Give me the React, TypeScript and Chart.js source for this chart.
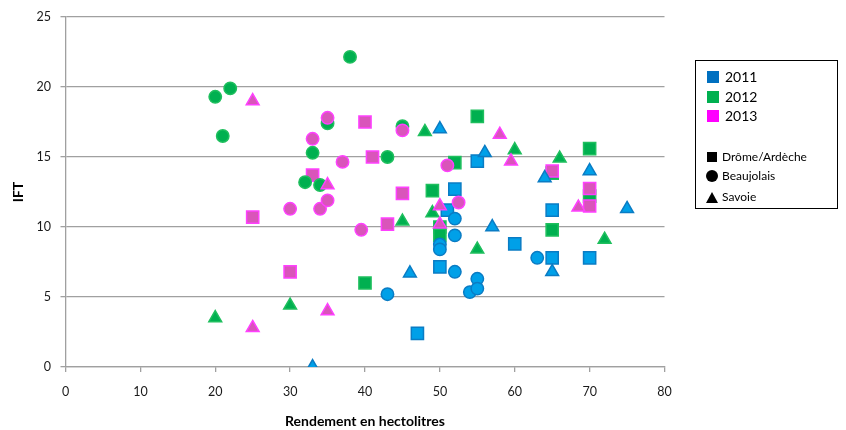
import React, { useEffect, useRef } from "react";
import { Chart, registerables } from "chart.js";

Chart.register(...registerables);

const FONT = "Lato, 'Open Sans', sans-serif";
const GRID = "#a0a0a0";

const years = ["2011", "2012", "2013"];
const regions = ["Drôme/Ardèche", "Beaujolais", "Savoie"];

const yearFill = ["#00A0E8", "#00B050", "#D955BA"];
const yearBorder = ["#0A7CC4", "#1FBF5E", "#FF40FF"];
const legendYearColor = ["#0070C0", "#00B050", "#FF00FF"];

const xTicks = [0, 10, 20, 30, 40, 50, 60, 70, 80];
const yTicks = [0, 5, 10, 15, 20, 25];

// Drôme/Ardèche (squares)
const drome2011: [number, number][] = [
  [47, 2.4], [50, 7.15], [51, 11.2], [52, 12.7], [55, 14.7], [60, 8.8], [65, 11.2], [65, 7.8], [70, 7.8],
];
const drome2012: [number, number][] = [
  [40, 6], [49, 12.6], [50, 10.0], [50, 9.4], [52, 14.6], [55, 17.9], [65, 9.8], [65, 13.85], [70, 15.6], [70, 12.2],
];
const drome2013: [number, number][] = [
  [25, 10.7], [30, 6.8], [33, 13.7], [40, 17.5], [41, 15], [43, 10.2], [45, 12.4], [65, 14.0], [70, 12.75], [70, 11.5],
];

// Beaujolais (circles)
const beaujolais2011: [number, number][] = [
  [43, 5.2], [50, 8.75], [50, 8.4], [52, 10.6], [52, 9.4], [52, 6.8], [54, 5.35], [55, 6.3], [55, 5.6], [63, 7.8],
];
const beaujolais2012: [number, number][] = [
  [20, 19.3], [21, 16.5], [22, 19.9], [32, 13.2], [33, 15.3], [34, 13], [35, 17.4], [38, 22.15], [43, 15], [45, 17.2],
];
const beaujolais2013: [number, number][] = [
  [30, 11.3], [33, 16.3], [34, 11.3], [35, 17.8], [35, 11.9], [37, 14.65], [39.5, 9.8], [45, 16.9], [51, 14.4], [52.5, 11.75],
];

// Savoie (triangles)
const savoie2011: [number, number][] = [
  [33, 0], [46, 6.7], [50, 17], [56, 15.3], [57, 10], [64, 13.5], [65, 6.8], [70, 14], [75, 11.3],
];
const savoie2012: [number, number][] = [
  [20, 3.5], [30, 4.4], [45, 10.4], [48, 16.8], [49, 11.0], [55, 8.4], [60, 15.5], [66, 14.9], [72, 9.1],
];
const savoie2013: [number, number][] = [
  [25, 19], [25, 2.8], [35, 13.0], [35, 4], [50, 11.5], [50, 10.2], [58, 16.6], [59.5, 14.7], [68.5, 11.4],
];

const seriesByRegion = [
  [drome2011, drome2012, drome2013],
  [beaujolais2011, beaujolais2012, beaujolais2013],
  [savoie2011, savoie2012, savoie2013],
];
const pointStyles = ["rect", "circle", "triangle"];
const pointRadii = [8.6, 6.2, 7.4];

function buildDatasets() {
  const list: any[] = [];
  seriesByRegion.forEach((yearsData, r) => {
    yearsData.forEach((pts, yi) => {
      list.push({
        label: `${regions[r]} ${years[yi]}`,
        data: pts.map(([x, y]) => ({ x, y })),
        pointStyle: pointStyles[r],
        pointRadius: pointRadii[r],
        pointHoverRadius: pointRadii[r],
        backgroundColor: yearFill[yi],
        borderColor: yearBorder[yi],
        pointBorderWidth: 1.5,
        showLine: false,
      });
    });
  });
  // Chart.js draws dataset 0 last (on top); reverse so the last series is on top
  return list.reverse();
}

const legendText: React.CSSProperties = {
  position: "absolute",
  fontFamily: FONT,
  color: "#000",
  whiteSpace: "nowrap",
  lineHeight: "20px",
  height: 20,
};

export default function App() {
  const ref = useRef<HTMLCanvasElement>(null);

  useEffect(() => {
    document.body.style.margin = "0";
    const canvas = ref.current!;
    const chart = new Chart(canvas, {
      type: "scatter",
      data: { datasets: buildDatasets() },
      options: {
        animation: false,
        responsive: false,
        maintainAspectRatio: false,
        events: [],
        layout: { padding: { left: 0, right: 181.5, top: 14, bottom: 0 } },
        plugins: { legend: { display: false }, tooltip: { enabled: false } },
        scales: {
          x: {
            type: "linear",
            min: 0,
            max: 80,
            afterBuildTicks: (s: any) => {
              s.ticks = xTicks.map((v) => ({ value: v }));
            },
            ticks: { color: "#1a1a1a", font: { family: FONT, size: 12.5 }, padding: 12, maxRotation: 0 },
            grid: { drawOnChartArea: false, drawTicks: true, tickLength: 5, color: GRID, lineWidth: 1.3 },
            border: { color: GRID, width: 1.3 },
            title: {
              display: true,
              text: "Rendement en hectolitres",
              color: "#000",
              font: { family: FONT, size: 14, weight: "bold" },
              padding: { top: 0, bottom: 0 },
            },
            afterFit: (s: any) => {
              s.height = 63;
            },
          },
          y: {
            type: "linear",
            min: 0,
            max: 25,
            afterBuildTicks: (s: any) => {
              s.ticks = yTicks.map((v) => ({ value: v }));
            },
            ticks: { color: "#1a1a1a", font: { family: FONT, size: 12.5 }, padding: 9.5 },
            grid: { drawOnChartArea: true, drawTicks: true, tickLength: 5, color: GRID, lineWidth: 1.3 },
            border: { color: GRID, width: 1.3 },
            title: {
              display: true,
              text: "IFT",
              color: "#000",
              font: { family: FONT, size: 14, weight: "bold" },
              padding: { top: 9.6, bottom: 0 },
            },
            afterFit: (s: any) => {
              s.width = 65.5;
            },
          },
        },
      } as any,
    });
    return () => chart.destroy();
  }, []);

  const yearRowCenters = [77, 97, 116];
  const shapeRowCenters = [157, 176, 197];

  return (
    <div style={{ position: "fixed", left: 0, top: 0, width: 846, height: 430, background: "#fff" }}>
      <canvas ref={ref} width={846} height={430} style={{ width: 846, height: 430, display: "block" }} />
      <div
        style={{
          position: "absolute",
          left: 695,
          top: 60,
          width: 143,
          height: 149,
          border: "1px solid #000",
          boxSizing: "border-box",
        }}
      />
      {years.map((y, i) => (
        <React.Fragment key={y}>
          <div
            style={{
              position: "absolute",
              left: 707,
              top: yearRowCenters[i] - 6,
              width: 12,
              height: 12,
              background: legendYearColor[i],
            }}
          />
          <div style={{ ...legendText, left: 725, top: yearRowCenters[i] - 10, fontSize: 14 }}>{y}</div>
        </React.Fragment>
      ))}
      <div style={{ position: "absolute", left: 707, top: shapeRowCenters[0] - 5, width: 10, height: 10, background: "#000" }} />
      <div
        style={{
          position: "absolute",
          left: 706,
          top: shapeRowCenters[1] - 6,
          width: 12,
          height: 12,
          borderRadius: "50%",
          background: "#000",
        }}
      />
      <div
        style={{
          position: "absolute",
          left: 706,
          top: shapeRowCenters[2] - 5,
          width: 0,
          height: 0,
          borderLeft: "6px solid transparent",
          borderRight: "6px solid transparent",
          borderBottom: "11px solid #000",
        }}
      />
      {regions.map((r, i) => (
        <div key={r} style={{ ...legendText, left: 722, top: shapeRowCenters[i] - 10, fontSize: 12 }}>
          {r}
        </div>
      ))}
    </div>
  );
}
